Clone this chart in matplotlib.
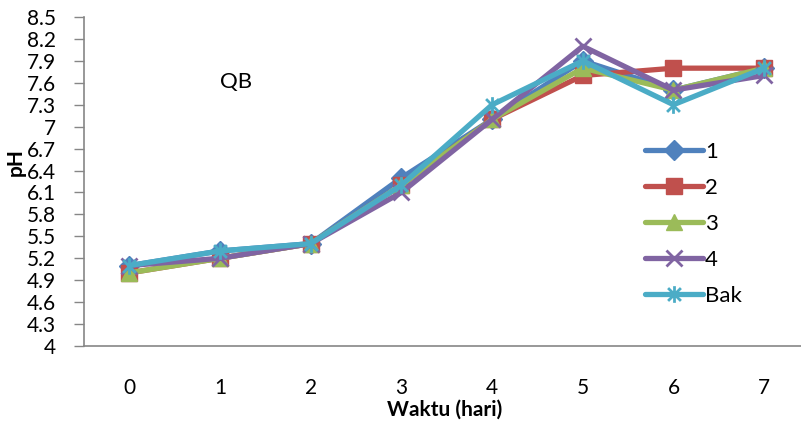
import matplotlib.pyplot as plt
from matplotlib.path import Path

days = [0, 1, 2, 3, 4, 5, 6, 7]
series_names = ['1', '2', '3', '4', 'Bak']
ph_1 = [5.1, 5.3, 5.4, 6.3, 7.1, 7.9, 7.5, 7.8]
ph_2 = [5.0, 5.2, 5.4, 6.2, 7.1, 7.7, 7.8, 7.8]
ph_3 = [5.0, 5.2, 5.4, 6.2, 7.1, 7.8, 7.5, 7.8]
ph_4 = [5.1, 5.2, 5.4, 6.1, 7.1, 8.1, 7.5, 7.7]
ph_bak = [5.1, 5.3, 5.4, 6.2, 7.3, 7.9, 7.3, 7.8]
y_ticks = [4, 4.3, 4.6, 4.9, 5.2, 5.5, 5.8, 6.1, 6.4, 6.7, 7, 7.3, 7.6, 7.9, 8.2, 8.5]
y_labels = ['4', '4.3', '4.6', '4.9', '5.2', '5.5', '5.8', '6.1', '6.4', '6.7',
            '7', '7.3', '7.6', '7.9', '8.2', '8.5']

plt.rcParams['font.family'] = ['Lato', 'DejaVu Sans']

# asterisk marker: x plus vertical bar
star = Path([(-1, -1), (1, 1), (-1, 1), (1, -1), (0, -1.3), (0, 1.3)],
            [Path.MOVETO, Path.LINETO, Path.MOVETO, Path.LINETO, Path.MOVETO, Path.LINETO])

styles = [
    ('#4F81BD', 'D', 10, 1),
    ('#C0504D', 's', 12, 1),
    ('#9BBB59', '^', 12, 1),
    ('#8064A2', 'x', 12, 2),
    ('#4BACC6', star, 12, 2),
]

fig = plt.figure(figsize=(8.01, 4.21), dpi=100)
ax = fig.add_axes([84 / 801, 75 / 421, 725.5 / 801, 329 / 421])

for vals, name, (col, mk, ms, mew) in zip([ph_1, ph_2, ph_3, ph_4, ph_bak], series_names, styles):
    ax.plot(days, vals, color=col, lw=3.8, marker=mk, markersize=ms,
            markerfacecolor=col, markeredgecolor=col, markeredgewidth=mew,
            label=name, solid_capstyle='round')

ax.set_xlim(-0.5, 7.5)
ax.set_ylim(4, 8.5)
ax.set_yticks(y_ticks)
ax.set_yticklabels(y_labels)
ax.set_xticks(days)
ax.tick_params(axis='y', length=7, width=1, color='#868686', labelsize=15, pad=13)
ax.tick_params(axis='x', length=0, labelsize=15, pad=23)
for s in ['top', 'right']:
    ax.spines[s].set_visible(False)
for s in ['left', 'bottom']:
    ax.spines[s].set_color('#868686')
    ax.spines[s].set_linewidth(1.2)

fig.text(445 / 801, 1 - 410 / 421, 'Waktu (hari)', fontsize=15, fontweight='bold',
         ha='center', va='center')
fig.text(16 / 801, 1 - 162 / 421, 'pH', rotation=90, fontsize=15, fontweight='bold',
         ha='center', va='center')
fig.text(236 / 801, 1 - 82 / 421, 'QB', fontsize=16, ha='center', va='center')

ax.legend(loc='upper left', bbox_to_anchor=(636 / 801, 1 - 133 / 421),
          bbox_transform=fig.transFigure, frameon=False, fontsize=16,
          handlelength=2.6, handletextpad=0.1, labelspacing=0.72, borderaxespad=0)

fig.savefig('out.png', dpi=100)
